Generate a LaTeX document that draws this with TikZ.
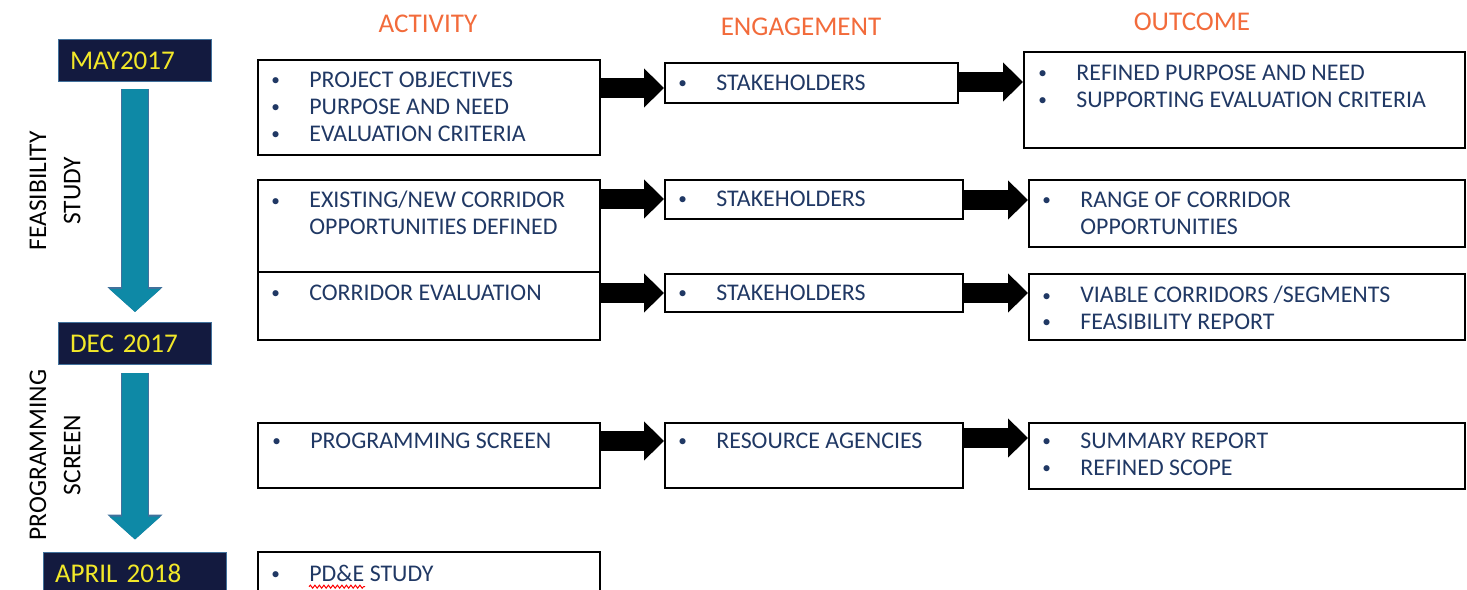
\documentclass[tikz,border=0pt]{standalone}
\usepackage{fontspec}
\setmainfont{Carlito}
\usetikzlibrary{arrows.meta,fit,calc,decorations.pathmorphing}

\definecolor{datefill}{HTML}{131A3F}
\definecolor{dateyellow}{HTML}{F2E829}
\definecolor{headorange}{HTML}{F26B3B}
\definecolor{itemblue}{HTML}{203864}
\definecolor{flowteal}{HTML}{0E89A6}
\definecolor{flowedge}{HTML}{41719C}

\newlength\pxlen \setlength\pxlen{0.02cm}
\newcommand\itm[1]{\makebox[39\pxlen][l]{\hspace{1\pxlen}\raisebox{0.08em}{\scalebox{0.72}{\textbullet}}}#1}
\newcommand\cnt[1]{\hspace{39\pxlen}#1}

\tikzset{
 box/.style={draw, line width=0.04cm, inner sep=0pt},
 items/.style={anchor=north west, inner sep=0pt, align=left, text=itemblue, font=\fontsize{13.6}{15.3}\selectfont},
 head/.style={text=headorange, font=\fontsize{15.4}{18}\selectfont},
 datebox/.style={fill=datefill, draw=flowedge, line width=0.02cm, text=dateyellow, minimum height=0.84cm, inner xsep=0.24cm, align=left, font=\fontsize{15.4}{18}\selectfont},
 phase/.style={rotate=90, align=center, font=\fontsize{14.5}{19.5}\selectfont},
 blk/.style={line width=0.4cm, -{Triangle[length=0.4cm,width=0.76cm]}},
 flow/.style={line width=0.52cm, draw=flowteal, -{Triangle[length=0.46cm,width=1.0cm]}, preaction={draw=flowedge, line width=0.56cm, -{Triangle[length=0.5cm,width=1.08cm]}}}
}

\begin{document}
\begin{tikzpicture}[x=0.02cm,y=-0.02cm]
\useasboundingbox (0,0) rectangle (1467,590);
\clip (0,0) rectangle (1467,590);

% column heads
\node[head] (act) at (428,24) {ACTIVITY};
\node[head] (eng) at (801,27) {ENGAGEMENT};
\node[head] (out) at (1192,22) {OUTCOME};

% time line
\node[datebox, text width=2.6cm] (may) at (135,61) {MAY2017};
\node[datebox, text width=2.6cm] (dec) at (135,343.5) {DEC 2017};
\node[datebox, text width=3.2cm] (apr) at (135,573) {APRIL 2018};
\draw[flow] ($(may.south)+(0,7)$) -- ($(dec.north)+(0,-10)$);
\draw[flow] ($(dec.south)+(0,8)$) -- ($(apr.north)+(0,-12)$);
\node[phase] (feas) at (55,191) {FEASIBILITY\\STUDY};
\node[phase] (prog) at (55,455) {PROGRAMMING\\SCREEN};

% activity
\node[box, fit={(258,60) (600,155)}] (a1) {};
\node[items] (a1t) at ($(a1.north west)+(13,13)$) {\itm{PROJECT OBJECTIVES}\\\itm{PURPOSE AND NEED}\\\itm{EVALUATION CRITERIA}};
\node[box, fit={(258,180) (600,272)}] (a2) {};
\node[items] (a2t) at ($(a2.north west)+(13,12)$) {\itm{EXISTING/NEW CORRIDOR}\\\cnt{OPPORTUNITIES DEFINED}};
\node[box, fit={(258,272) (600,340)}] (a3) {};
\node[items] (a3t) at ($(a3.north west)+(13,14)$) {\itm{CORRIDOR EVALUATION}};
\node[box, fit={(258,423) (600,488)}] (a4) {};
\node[items] (a4t) at ($(a4.north west)+(14,11)$) {\itm{PROGRAMMING SCREEN}};
\node[box, fit={(258,552) (600,600)}] (a5) {};
\node[items] (a5t) at ($(a5.north west)+(13,14)$) {\itm{PD\&E STUDY}};
\draw[red, line width=0.02cm, decorate, decoration={snake, amplitude=0.03cm, segment length=0.09cm}] ($(a5t.base west)+(39,5)$) -- ($(a5t.base west)+(95,5)$);

% engagement
\node[box, fit={(665,63) (958,103)}] (e1) {};
\node[items] (e1t) at ($(e1.north west)+(13,13)$) {\itm{STAKEHOLDERS}};
\node[box, fit={(665,180) (963,219)}] (e2) {};
\node[items] (e2t) at ($(e2.north west)+(13,12)$) {\itm{STAKEHOLDERS}};
\node[box, fit={(665,274) (963,312)}] (e3) {};
\node[items] (e3t) at ($(e3.north west)+(13,12)$) {\itm{STAKEHOLDERS}};
\node[box, fit={(665,423) (963,488)}] (e4) {};
\node[items] (e4t) at ($(e4.north west)+(13,11)$) {\itm{RESOURCE AGENCIES}};

% outcome
\node[box, fit={(1024,52) (1465,148)}] (o1) {};
\node[items] (o1t) at ($(o1.north west)+(14,14)$) {\itm{REFINED PURPOSE AND NEED}\\\itm{SUPPORTING EVALUATION CRITERIA}};
\node[box, fit={(1029,180) (1465,247)}] (o2) {};
\node[items] (o2t) at ($(o2.north west)+(13,13)$) {\itm{RANGE OF CORRIDOR}\\\cnt{OPPORTUNITIES}};
\node[box, fit={(1029,274) (1465,340)}] (o3) {};
\node[items] (o3t) at ($(o3.north west)+(13,13)$) {\itm{VIABLE CORRIDORS /SEGMENTS}\\\itm{FEASIBILITY REPORT}};
\node[box, fit={(1029,423) (1465,489)}] (o4) {};
\node[items] (o4t) at ($(o4.north west)+(13,11)$) {\itm{SUMMARY REPORT}\\\itm{REFINED SCOPE}};

% block arrows
\draw[blk] (a1.east |- 0,88) -- (e1.west |- 0,88);
\draw[blk] (e1.east |- 0,82) -- (o1.west |- 0,82);
\draw[blk] (a2.east |- 0,199) -- (e2.west |- 0,199);
\draw[blk] (e2.east |- 0,200) -- (o2.west |- 0,200);
\draw[blk] (a3.east |- 0,293) -- (e3.west |- 0,293);
\draw[blk] (e3.east |- 0,293) -- (o3.west |- 0,293);
\draw[blk] (a4.east |- 0,441) -- (e4.west |- 0,441);
\draw[blk] (e4.east |- 0,438) -- (o4.west |- 0,438);
\end{tikzpicture}
\end{document}
